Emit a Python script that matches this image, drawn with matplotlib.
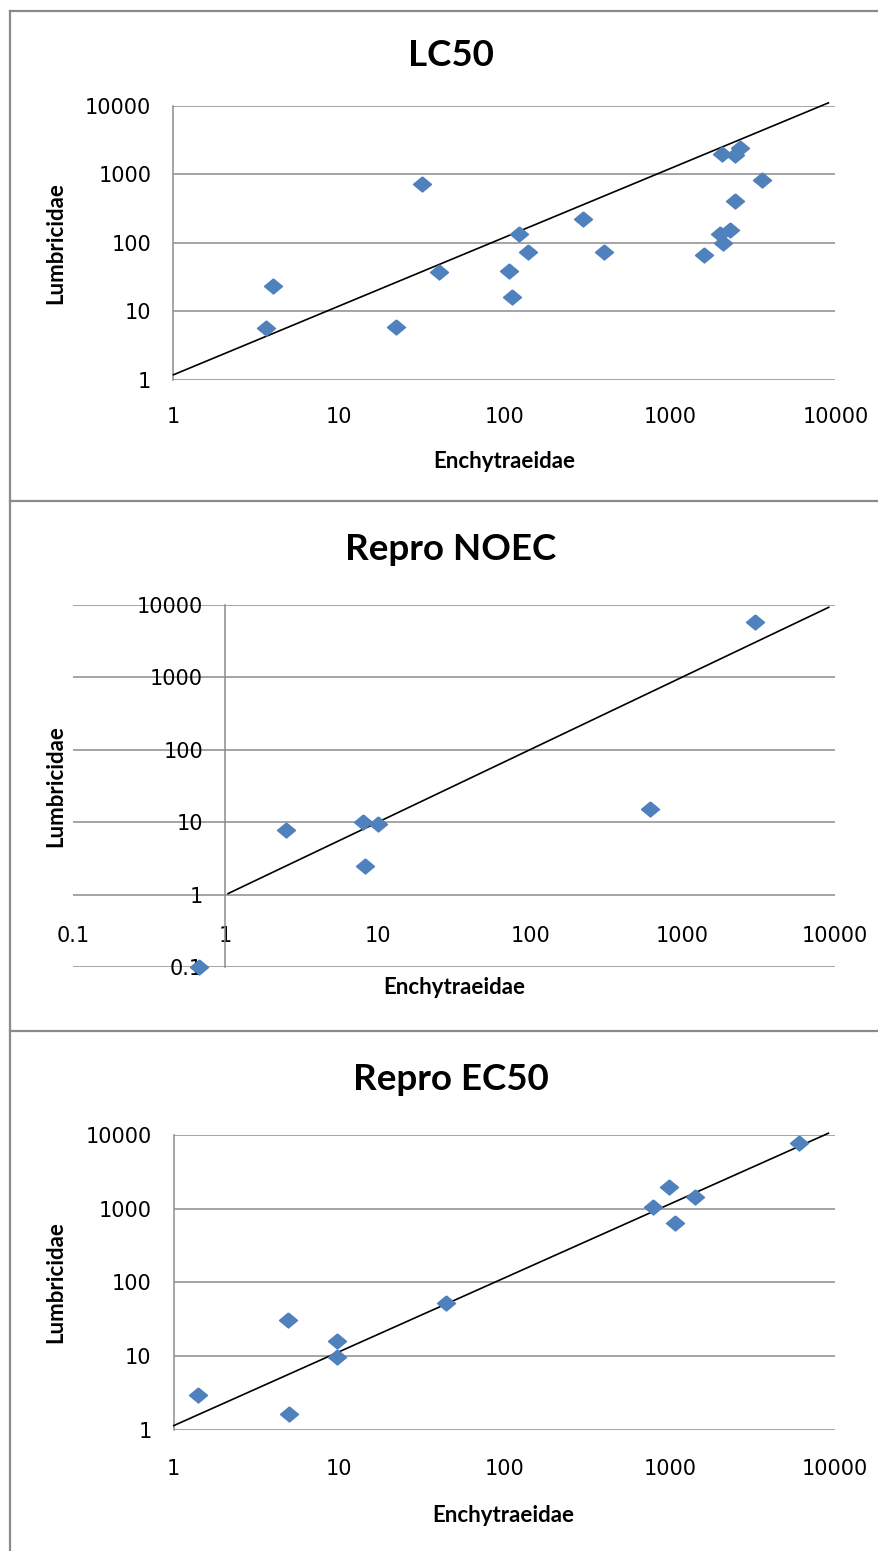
import numpy as np
import matplotlib.pyplot as plt
from matplotlib.lines import Line2D

# --- data ---
lc50_ench = [3.6, 4.0, 22, 31.7, 40, 107, 111, 123, 138, 300, 400,
             1600, 2000, 2090, 2300, 2480, 3600, 2060, 2480, 2640]
lc50_lumb = [5.6, 23, 5.9, 730, 37, 39, 16, 133, 72, 220, 74,
             66, 133, 100, 152, 400, 830, 1940, 1900, 2450]
lc50_line_x = [1, 9060]
lc50_line_y = [1.18, 11000]

noec_ench = [0.67, 2.5, 8, 10, 8.2, 610, 3000]
noec_lumb = [0.1, 7.8, 10, 9.6, 2.5, 15.3, 5800]
noec_line_x = [1.04, 9100]
noec_line_y = [1.04, 9300]

ec50_ench = [1.4, 5, 4.9, 9.7, 9.7, 44, 790, 985, 1080, 1420, 6000]
ec50_lumb = [2.9, 1.6, 31, 16, 9.8, 53, 1040, 1970, 640, 1440, 7700]
ec50_line_x = [1, 9100]
ec50_line_y = [1.13, 10570]

ticks_main = [1, 10, 100, 1000, 10000]
labels_main = ['1', '10', '100', '1000', '10000']
ticks_noec = [0.1, 1, 10, 100, 1000, 10000]
labels_noec = ['0.1', '1', '10', '100', '1000', '10000']

W, H = 879, 1551
fig = plt.figure(figsize=(W / 100, H / 100), dpi=100)

blue = '#4F81BD'
grid_c = '#8c8c8c'
# diamond, a bit wider than tall like in the picture
diamond = [(0, 1), (1.2, 0), (0, -1), (-1.2, 0), (0, 1)]
title_font = ['Lato', 'DejaVu Sans']
tick_font = ['DejaVu Sans']


def rect(left, top, right, bottom):
    return [left / W, 1 - bottom / H, (right - left) / W, (bottom - top) / H]


def make_panel(box, xs, ys, lx, ly, xlim, ylim, xt, xl, yt, yl,
               title, title_y, title_x, xlab_x, xlab_y, ylab_y, xpad, ypad, yaxis_at):
    ax = fig.add_axes(rect(*box))
    ax.set_xscale('log')
    ax.set_yscale('log')
    ax.set_xlim(xlim)
    ax.set_ylim(ylim)
    ax.set_xticks(xt)
    ax.set_xticklabels(xl)
    ax.set_yticks(yt)
    ax.set_yticklabels(yl)
    ax.xaxis.set_minor_locator(plt.NullLocator())
    ax.yaxis.set_minor_locator(plt.NullLocator())
    ax.tick_params(length=0, labelsize=15, colors='black')
    ax.tick_params(axis='x', pad=xpad)
    ax.tick_params(axis='y', pad=ypad)
    for lab in ax.get_xticklabels() + ax.get_yticklabels():
        lab.set_fontfamily(tick_font)
    ax.grid(True, axis='y', color=grid_c, lw=1.1)
    for gl in ax.get_ygridlines():
        gl.set_clip_on(False)
    ax.set_axisbelow(True)
    for s in ['top', 'right', 'bottom']:
        ax.spines[s].set_visible(False)
    ax.spines['left'].set_position(('data', yaxis_at))
    ax.spines['left'].set_color(grid_c)
    ax.spines['left'].set_linewidth(1.1)
    ax.spines['bottom'].set_position(('data', 1))

    ax.plot(lx, ly, color='black', lw=1.2, clip_on=False, zorder=3)
    ax.plot(xs, ys, ls='none', marker=diamond, ms=13, color=blue,
            mec=blue, clip_on=False, zorder=4)

    fig.text(title_x / W, 1 - title_y / H, title, ha='center', va='center',
             fontsize=26.5, fontweight='bold', family=title_font)
    fig.text(xlab_x / W, 1 - xlab_y / H, 'Enchytraeidae', ha='center', va='center',
             fontsize=16, fontweight='bold', family=title_font)
    fig.text(56 / W, 1 - ylab_y / H, 'Lumbricidae', ha='center', va='center',
             rotation=90, fontsize=16, fontweight='bold', family=title_font)
    return ax


make_panel((173.5, 105.7, 835.5, 379.7), lc50_ench, lc50_lumb, lc50_line_x, lc50_line_y,
           (1, 10000), (1, 10000), ticks_main, labels_main, ticks_main, labels_main,
           'LC50', 55, 451, 504, 461, 243, 20, 16, 1)

make_panel((73, 605, 835, 967.3), noec_ench, noec_lumb, noec_line_x, noec_line_y,
           (0.1, 10000), (0.1, 10000), ticks_noec, labels_noec, ticks_noec, labels_noec,
           'Repro NOEC', 549, 451, 454, 987, 786, 22.5, 16, 1)

make_panel((173.8, 1135, 835.2, 1429.5), ec50_ench, ec50_lumb, ec50_line_x, ec50_line_y,
           (1, 10000), (1, 10000), ticks_main, labels_main, ticks_main, labels_main,
           'Repro EC50', 1080, 451, 503, 1516, 1282, 21, 16, 1)

# chart borders
bc = '#8a8a8a'
for (x0, y0, x1, y1) in [(10, 11, 10, H), (10, 11, W, 11), (10, 501, W, 501), (10, 1031, W, 1031)]:
    fig.add_artist(Line2D([x0 / W, x1 / W], [1 - y0 / H, 1 - y1 / H],
                          color=bc, lw=1.6, transform=fig.transFigure))

fig.savefig('out.png', dpi=100)
